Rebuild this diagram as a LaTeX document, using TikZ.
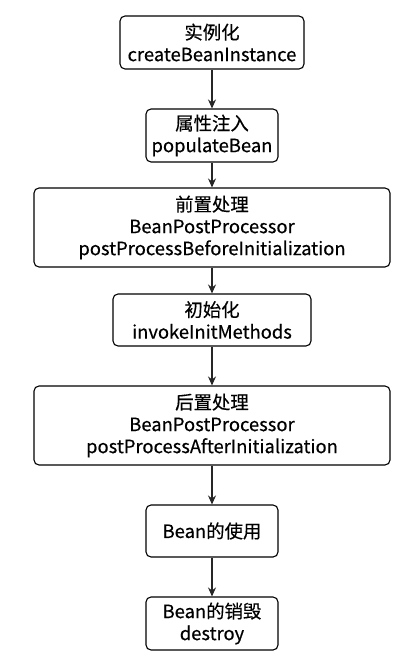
\documentclass[tikz,border=0pt]{standalone}
\usepackage{fontspec}
\setmainfont{Noto Sans CJK SC}[FakeBold=0.4]
\usetikzlibrary{arrows.meta}
\begin{document}
\begin{tikzpicture}[x=1pt,y=-1pt,
  box/.style={draw=black, line width=1.1pt, rounded corners=5pt, align=center, font=\fontsize{18.4}{22}\selectfont, inner sep=0pt},
  arr/.style={draw=black!85, line width=1.2pt, -{Stealth[length=9pt,width=8pt]}}]
\useasboundingbox (0,0) rectangle (419,666);
\node[box, minimum width=184pt, minimum height=53pt] (n1) at (212,42.5) {实例化\\createBeanInstance};
\node[box, minimum width=132pt, minimum height=53pt] (n2) at (212,135.5) {属性注入\\populateBean};
\node[box, minimum width=356pt, minimum height=79pt] (n3) at (212,227.5) {前置处理\\BeanPostProcessor\\postProcessBeforeInitialization};
\node[box, minimum width=198pt, minimum height=52pt] (n4) at (212,320) {初始化\\invokeInitMethods};
\node[box, minimum width=356pt, minimum height=79pt] (n5) at (212,425.5) {后置处理\\BeanPostProcessor\\postProcessAfterInitialization};
\node[box, minimum width=132pt, minimum height=52pt] (n6) at (212,531) {Bean的使用};
\node[box, minimum width=132pt, minimum height=53pt] (n7) at (212,623.5) {Bean的销毁\\destroy};
\draw[arr] (n1) -- (n2);
\draw[arr] (n2) -- (n3);
\draw[arr] (n3) -- (n4);
\draw[arr] (n4) -- (n5);
\draw[arr] (n5) -- (n6);
\draw[arr] (n6) -- (n7);
\end{tikzpicture}
\end{document}
